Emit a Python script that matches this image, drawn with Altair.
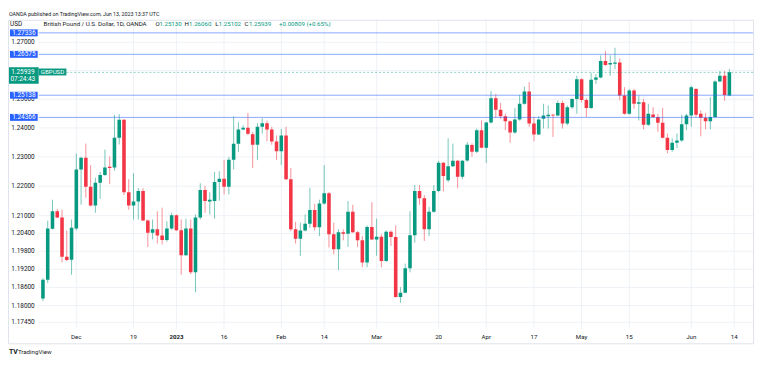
import math
import altair as alt
import pandas as pd

# ---------------- data ----------------
first_bar = -7  # bar number of the first visible candle (Dec 1 = bar 0)

opens = [1.1823, 1.1885, 1.2056, 1.2115, 1.2094, 1.1962, 1.1952, 1.2057, 1.2257, 1.2297,
         1.2198, 1.2134, 1.2212, 1.2238, 1.2266, 1.2264, 1.2366, 1.2428, 1.2179, 1.2134,
         1.2148, 1.2184, 1.2084, 1.2042, 1.2054, 1.2033, 1.2018, 1.2057, 1.2101, 1.2051,
         1.1967, 1.2057, 1.1910, 1.2094, 1.2187, 1.2148, 1.2150, 1.2214, 1.2225, 1.2198,
         1.2290, 1.2345, 1.2395, 1.2401, 1.2378, 1.2342, 1.2404, 1.2416, 1.2395, 1.2353,
         1.2320, 1.2374, 1.2224, 1.2054, 1.2022, 1.2050, 1.2073, 1.2119, 1.2061, 1.2141,
         1.2176, 1.2037, 1.1987, 1.2044, 1.2039, 1.2113, 1.2044, 1.2017, 1.1943, 1.2062,
         1.2020, 1.2029, 1.1948, 1.2046, 1.2028, 1.1828, 1.1842, 1.1924, 1.2034, 1.2184,
         1.2159, 1.2054, 1.2113, 1.2184, 1.2280, 1.2220, 1.2268, 1.2287, 1.2232, 1.2288,
         1.2341, 1.2318, 1.2392, 1.2332, 1.2419, 1.2503, 1.2463, 1.2441, 1.2423, 1.2384,
         1.2429, 1.2484, 1.2527, 1.2415, 1.2377, 1.2432, 1.2441, 1.2446, 1.2443, 1.2487,
         1.2415, 1.2472, 1.2501, 1.2570, 1.2497, 1.2469, 1.2568, 1.2576, 1.2634, 1.2622,
         1.2624, 1.2629, 1.2513, 1.2449, 1.2530, 1.2484, 1.2489, 1.2411, 1.2447, 1.2438,
         1.2418, 1.2366, 1.2324, 1.2349, 1.2357, 1.2413, 1.2443, 1.2536, 1.2449, 1.2435,
         1.2423, 1.2438, 1.2562, 1.2582, 1.2513]
highs = [1.1890, 1.2083, 1.2154, 1.2123, 1.2120, 1.2050, 1.2087, 1.2312, 1.2300, 1.2346,
         1.2272, 1.2229, 1.2249, 1.2325, 1.2302, 1.2445, 1.2448, 1.2430, 1.2224, 1.2244,
         1.2194, 1.2193, 1.2087, 1.2087, 1.2115, 1.2127, 1.2081, 1.2110, 1.2104, 1.2087,
         1.2090, 1.2087, 1.2104, 1.2210, 1.2201, 1.2179, 1.2249, 1.2251, 1.2290, 1.2300,
         1.2440, 1.2420, 1.2409, 1.2452, 1.2386, 1.2416, 1.2434, 1.2425, 1.2404, 1.2374,
         1.2397, 1.2404, 1.2262, 1.2079, 1.2076, 1.2104, 1.2195, 1.2140, 1.2154, 1.2272,
         1.2180, 1.2076, 1.2054, 1.2054, 1.2150, 1.2137, 1.2048, 1.2031, 1.2067, 1.2146,
         1.2090, 1.2037, 1.2051, 1.2050, 1.2067, 1.1861, 1.1939, 1.2115, 1.2204, 1.2204,
         1.2170, 1.2130, 1.2204, 1.2286, 1.2282, 1.2364, 1.2346, 1.2290, 1.2290, 1.2351,
         1.2347, 1.2398, 1.2426, 1.2421, 1.2528, 1.2518, 1.2487, 1.2449, 1.2426, 1.2469,
         1.2515, 1.2544, 1.2560, 1.2438, 1.2441, 1.2484, 1.2478, 1.2449, 1.2495, 1.2495,
         1.2478, 1.2503, 1.2582, 1.2573, 1.2503, 1.2593, 1.2588, 1.2654, 1.2669, 1.2654,
         1.2681, 1.2643, 1.2542, 1.2536, 1.2536, 1.2513, 1.2501, 1.2484, 1.2472, 1.2449,
         1.2470, 1.2381, 1.2364, 1.2381, 1.2446, 1.2449, 1.2547, 1.2539, 1.2461, 1.2452,
         1.2507, 1.2566, 1.2599, 1.2599, 1.2606]
lows = [1.1815, 1.1874, 1.2053, 1.2092, 1.1943, 1.1947, 1.1902, 1.2050, 1.2137, 1.2161,
        1.2131, 1.2110, 1.2157, 1.2235, 1.2207, 1.2253, 1.2343, 1.2170, 1.2120, 1.2087,
        1.2087, 1.2082, 1.1995, 1.2020, 1.2006, 1.2003, 1.2012, 1.2052, 1.2048, 1.1902,
        1.1965, 1.1904, 1.1844, 1.2087, 1.2110, 1.2104, 1.2090, 1.2151, 1.2172, 1.2172,
        1.2257, 1.2317, 1.2392, 1.2375, 1.2262, 1.2289, 1.2380, 1.2354, 1.2342, 1.2289,
        1.2272, 1.2221, 1.2048, 1.2006, 1.1965, 1.2047, 1.2059, 1.2050, 1.2031, 1.2137,
        1.1993, 1.1970, 1.1918, 1.2017, 1.1995, 1.2042, 1.1995, 1.1927, 1.1927, 1.2018,
        1.1965, 1.1927, 1.1945, 1.1998, 1.1826, 1.1809, 1.1841, 1.1910, 1.2009, 1.2137,
        1.2015, 1.2031, 1.2110, 1.2179, 1.2182, 1.2214, 1.2265, 1.2193, 1.2224, 1.2283,
        1.2301, 1.2313, 1.2330, 1.2279, 1.2415, 1.2435, 1.2432, 1.2392, 1.2349, 1.2380,
        1.2425, 1.2481, 1.2404, 1.2354, 1.2375, 1.2398, 1.2398, 1.2369, 1.2441, 1.2398,
        1.2409, 1.2466, 1.2449, 1.2489, 1.2438, 1.2466, 1.2553, 1.2573, 1.2617, 1.2582,
        1.2605, 1.2496, 1.2446, 1.2446, 1.2467, 1.2426, 1.2395, 1.2407, 1.2434, 1.2387,
        1.2364, 1.2313, 1.2318, 1.2330, 1.2352, 1.2392, 1.2404, 1.2438, 1.2371, 1.2395,
        1.2395, 1.2434, 1.2560, 1.2494, 1.2510]
closes = [1.1885, 1.2057, 1.2115, 1.2094, 1.1962, 1.1951, 1.2059, 1.2257, 1.2297, 1.2198,
          1.2134, 1.2212, 1.2238, 1.2264, 1.2262, 1.2366, 1.2428, 1.2179, 1.2134, 1.2148,
          1.2184, 1.2084, 1.2042, 1.2054, 1.2033, 1.2018, 1.2057, 1.2101, 1.2051, 1.1967,
          1.2057, 1.1910, 1.2094, 1.2187, 1.2150, 1.2154, 1.2214, 1.2225, 1.2198, 1.2290,
          1.2345, 1.2395, 1.2401, 1.2380, 1.2342, 1.2404, 1.2416, 1.2395, 1.2353, 1.2320,
          1.2374, 1.2224, 1.2054, 1.2022, 1.2050, 1.2073, 1.2119, 1.2061, 1.2141, 1.2176,
          1.2037, 1.1987, 1.2044, 1.2039, 1.2113, 1.2044, 1.2017, 1.1943, 1.2062, 1.2020,
          1.2029, 1.1948, 1.2046, 1.2028, 1.1828, 1.1842, 1.1924, 1.2034, 1.2184, 1.2159,
          1.2054, 1.2113, 1.2184, 1.2280, 1.2235, 1.2268, 1.2287, 1.2232, 1.2287, 1.2342,
          1.2318, 1.2392, 1.2332, 1.2419, 1.2503, 1.2463, 1.2441, 1.2423, 1.2384, 1.2429,
          1.2484, 1.2527, 1.2415, 1.2377, 1.2429, 1.2443, 1.2446, 1.2443, 1.2487, 1.2415,
          1.2472, 1.2501, 1.2570, 1.2497, 1.2469, 1.2568, 1.2576, 1.2634, 1.2620, 1.2627,
          1.2629, 1.2513, 1.2449, 1.2530, 1.2484, 1.2489, 1.2411, 1.2449, 1.2438, 1.2418,
          1.2366, 1.2324, 1.2349, 1.2357, 1.2413, 1.2443, 1.2542, 1.2446, 1.2435, 1.2423,
          1.2438, 1.2562, 1.2582, 1.2515, 1.2594]

tick_bars = [0, 12, 21, 31, 43, 52, 63, 76, 86, 96, 106, 116, 129, 138]
tick_labels = ["Dec", "19", "2023", "16", "Feb", "14", "Mar", "20", "Apr", "17", "May", "15", "Jun", "14"]
tick_bold = [False, False, True, False, False, False, False, False, False, False, False, False, False, False]

grid_prices = [1.27, 1.26, 1.25, 1.24, 1.23, 1.22, 1.21, 1.204, 1.198, 1.192, 1.186, 1.18, 1.1745]
label_prices = [1.27, 1.25, 1.24, 1.23, 1.22, 1.21, 1.204, 1.198, 1.192, 1.186, 1.18, 1.1745]
levels = [1.27336, 1.26575, 1.25138, 1.24366]
last_price = 1.25939
last_time = "07:24:43"
symbol = "GBPUSD"

# ---------------- layout ----------------
W, H = 723, 312
y_lo, y_hi = 1.17249, 1.27804
x_lo, x_hi = -6.86, 141.14
GREEN, RED, BLUE = "#089981", "#F23645", "#2962FF"
TXT = "#131722"
FONT = "Roboto"

LOGPX = math.log(y_hi / y_lo) / H  # log-units per pixel


def fac(px):
    return math.exp(px * LOGPX)


df = pd.DataFrame({
    "bar": [first_bar + i for i in range(len(opens))],
    "open": opens, "high": highs, "low": lows, "close": closes,
})
df["dir"] = ["up" if c >= o else "down" for o, c in zip(opens, closes)]

ticks_df = pd.DataFrame({"bar": tick_bars, "label": tick_labels, "bold": tick_bold})
grid_df = pd.DataFrame({"p": grid_prices})
plabel_df = pd.DataFrame({"p": label_prices})
levels_df = pd.DataFrame({"level": levels})
last_df = pd.DataFrame({"price": [last_price], "time": [last_time], "sym": [symbol]})

xs = alt.Scale(domain=[x_lo, x_hi], nice=False, zero=False)
ys = alt.Scale(type="log", domain=[y_lo, y_hi], nice=False, zero=False)
color = alt.Color("dir:N", scale=alt.Scale(domain=["up", "down"], range=[GREEN, RED]), legend=None)

X = alt.X("bar:Q", scale=xs, axis=None)


def Y(field):
    return alt.Y(field, scale=ys, axis=None)


vgrid = alt.Chart(ticks_df).mark_rule(color="#EEF1F6", strokeWidth=1).encode(
    x=X, y=alt.value(0), y2=alt.value(H))

hgrid = alt.Chart(grid_df).mark_rule(color="#EEF1F6", strokeWidth=1).encode(y=Y("p:Q"))

ylabels = alt.Chart(plabel_df).transform_calculate(
    label="format(datum.p, '.5f')"
).mark_text(fontSize=6.5, font=FONT, color=TXT, align="right", baseline="middle").encode(
    x=alt.value(-4), y=Y("p:Q"), text="label:N")

wick = alt.Chart(df).mark_rule(strokeWidth=1, opacity=0.55, clip=True).encode(
    x=X, y=Y("low:Q"), y2="high:Q", color=color)

body = alt.Chart(df).mark_bar(size=3.6, clip=True).encode(
    x=X, y=Y("open:Q"), y2="close:Q", color=color)

level_rule = alt.Chart(levels_df).mark_rule(color=BLUE, opacity=0.55, strokeWidth=1).encode(
    y=Y("level:Q"))

level_box = alt.Chart(levels_df).transform_calculate(
    top=f"datum.level*{fac(3.5)}", bot=f"datum.level/{fac(3.5)}"
).mark_rect(color=BLUE).encode(
    x=alt.value(-29), x2=alt.value(-1), y=Y("top:Q"), y2="bot:Q")

level_text = alt.Chart(levels_df).transform_calculate(
    label="format(datum.level, '.5f')"
).mark_text(color="white", fontSize=6.5, font=FONT, align="center", baseline="middle").encode(
    x=alt.value(-15), y=Y("level:Q"), text="label:N")

last_line = alt.Chart(last_df).mark_rule(color=GREEN, opacity=0.45, strokeDash=[2, 2]).encode(
    y=Y("price:Q"), x=alt.value(28), x2=alt.value(W))

last_box = alt.Chart(last_df).transform_calculate(
    top=f"datum.price*{fac(5.2)}", bot=f"datum.price/{fac(11.5)}"
).mark_rect(color=GREEN).encode(
    x=alt.value(-32), x2=alt.value(0), y=Y("top:Q"), y2="bot:Q")

last_txt1 = alt.Chart(last_df).transform_calculate(
    yy=f"datum.price*{fac(0.8)}", label="format(datum.price, '.5f')"
).mark_text(color="white", fontSize=6.5, font=FONT, align="center", baseline="middle").encode(
    x=alt.value(-16), y=Y("yy:Q"), text="label:N")

last_txt2 = alt.Chart(last_df).transform_calculate(
    yy=f"datum.price/{fac(7.0)}"
).mark_text(color="white", fontSize=6.5, font=FONT, align="center", baseline="middle").encode(
    x=alt.value(-16), y=Y("yy:Q"), text="time:N")

sym_box = alt.Chart(last_df).transform_calculate(
    top=f"datum.price*{fac(3.9)}", bot=f"datum.price/{fac(3.1)}"
).mark_rect(color=GREEN).encode(
    x=alt.value(0), x2=alt.value(28), y=Y("top:Q"), y2="bot:Q")

sym_txt = alt.Chart(last_df).transform_calculate(
    yy=f"datum.price*{fac(0.4)}"
).mark_text(color="white", fontSize=6.2, font=FONT, align="center", baseline="middle").encode(
    x=alt.value(14), y=Y("yy:Q"), text="sym:N")

x_labels = alt.Chart(ticks_df).transform_filter("!datum.bold").mark_text(
    fontSize=6.2, font=FONT, color=TXT, align="center", baseline="middle").encode(
    x=X, y=alt.value(321), text="label:N")
x_labels_bold = alt.Chart(ticks_df).transform_filter("datum.bold").mark_text(
    fontSize=6.2, font=FONT, color=TXT, fontWeight="bold", align="center", baseline="middle").encode(
    x=X, y=alt.value(321), text="label:N")

frame = alt.Chart(pd.DataFrame({"a": [0]})).mark_rect(
    fillOpacity=0, stroke="#E0E3EB", strokeWidth=1).encode(
    x=alt.value(-30.5), x2=alt.value(W - 0.5), y=alt.value(0.5), y2=alt.value(327.5))


def note(txt, x, y, color=TXT, size=6.2, weight="normal"):
    return alt.Chart(pd.DataFrame({"t": [txt]})).mark_text(
        fontSize=size, font=FONT, color=color, fontWeight=weight,
        align="left", baseline="middle").encode(
        x=alt.value(x), y=alt.value(y), text="t:N")


notes = [
    note("OANDA published on TradingView.com, Jun 13, 2023 13:37 UTC", -30, -5.5, size=5.4),
    note("USD", -29, 4, size=6.5),
    note("British Pound / U.S. Dollar, 1D, OANDA", 5, 4),
    note("O", 118, 4), note("1.25130", 122, 4, color=GREEN),
    note("H", 147.5, 4), note("1.26060", 152, 4, color=GREEN),
    note("L", 178.5, 4), note("1.25102", 182, 4, color=GREEN),
    note("C", 208, 4), note("1.25939", 212.5, 4, color=GREEN),
    note("+0.00809 (+0.65%)", 243, 4, color=GREEN),
    note("TV", -30, 336, size=7, weight="bold"),
    note("TradingView", -21, 336, size=6.2),
]

chart = alt.layer(
    vgrid, hgrid, ylabels, wick, body, level_rule, last_line,
    level_box, level_text, last_box, last_txt1, last_txt2, sym_box, sym_txt,
    x_labels, x_labels_bold, frame, *notes
).properties(
    width=W, height=H,
    autosize=alt.AutoSizeParams(type="none"),
    padding={"left": 31, "top": 10, "right": 6, "bottom": 27},
    background="white",
).configure_view(strokeWidth=0)

chart.save("out.html", embed_options={"renderer": "svg", "actions": False})
